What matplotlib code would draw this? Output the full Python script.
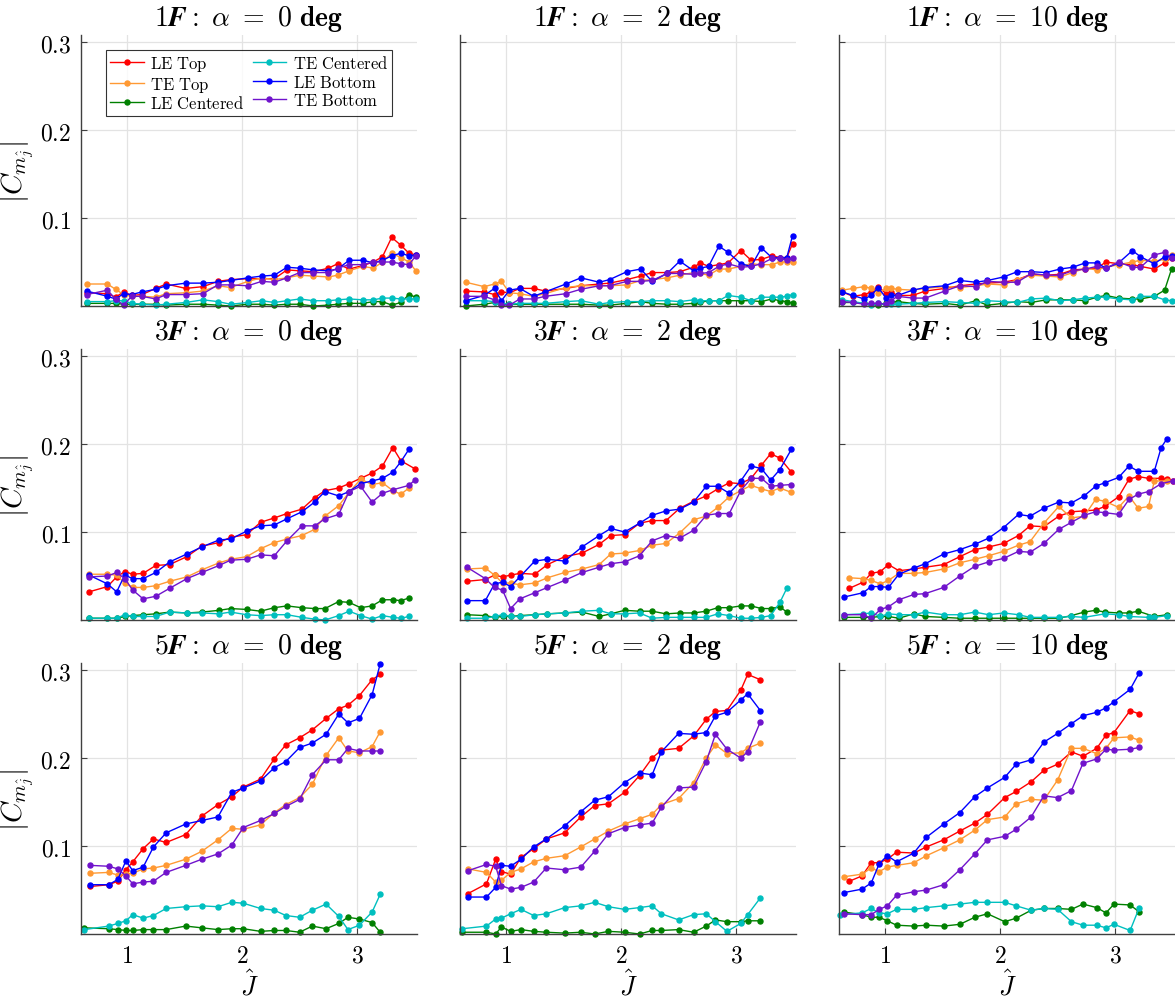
import numpy as np
import matplotlib
matplotlib.use("Agg")
import matplotlib.pyplot as plt

plt.rcParams['mathtext.fontset'] = 'cm'
plt.rcParams['font.family'] = 'serif'
plt.rcParams['font.serif'] = ['DejaVu Serif']

nan = np.nan

# series names, legend order
series_names = ['LE Top', 'TE Top', 'LE Centered', 'TE Centered', 'LE Bottom', 'TE Bottom']
series_colors = ['#ff0000', '#ff9933', '#008000', '#00bfbf', '#0000ff', '#7013cc']

rows = ['1', '3', '5']
alphas = [0, 2, 10]

# ---------------- 1F, alpha = 0 ----------------
J_1f_a0 = [0.65, 0.83, 0.90, 0.97, 1.04, 1.13, 1.25, 1.34, 1.51, 1.66, 1.79, 1.90, 2.05, 2.17,
           2.28, 2.39, 2.50, 2.62, 2.75, 2.83, 2.93, 3.05, 3.14, 3.22, 3.30, 3.38, 3.45, 3.51]
le_top_1f_a0 = [0.015, 0.014, 0.010, 0.016, 0.012, 0.013, 0.020, 0.025, 0.020, 0.022, 0.028, 0.030, 0.031, 0.031,
                0.031, 0.041, 0.040, 0.039, 0.043, 0.048, 0.042, 0.046, 0.050, 0.056, 0.078, 0.069, 0.060, 0.058]
te_top_1f_a0 = [0.025, 0.025, 0.019, 0.013, 0.011, 0.011, 0.010, 0.014, 0.015, 0.017, 0.023, 0.021, 0.028, 0.032,
                0.030, 0.032, 0.035, 0.034, 0.033, 0.035, 0.040, 0.045, 0.043, 0.050, 0.060, 0.055, 0.050, 0.040]
le_cen_1f_a0 = [0.003, 0.003, 0.003, 0.002, 0.002, 0.002, 0.002, 0.001, 0.002, 0.002, 0.001, 0.000, 0.002, 0.002,
                0.001, 0.002, 0.002, 0.000, 0.001, 0.002, 0.003, 0.003, 0.005, 0.005, 0.001, 0.004, 0.013, 0.010]
te_cen_1f_a0 = [0.005, 0.005, 0.006, 0.006, 0.003, 0.002, 0.001, 0.002, 0.004, 0.007, 0.005, 0.002, 0.004, 0.006,
                0.004, 0.006, 0.008, 0.006, 0.006, 0.007, 0.008, 0.007, 0.007, 0.009, 0.009, 0.008, 0.008, 0.008]
le_bot_1f_a0 = [0.017, 0.011, 0.008, 0.014, 0.013, 0.016, 0.019, 0.023, 0.026, 0.026, 0.027, 0.029, 0.032, 0.034,
                0.035, 0.044, 0.043, 0.041, 0.040, 0.042, 0.052, 0.052, 0.049, 0.052, 0.057, 0.060, 0.057, 0.058]
te_bot_1f_a0 = [0.013, 0.018, 0.008, 0.001, 0.011, 0.011, 0.008, 0.013, 0.013, 0.014, 0.024, 0.024, 0.023, 0.028,
                0.027, 0.032, 0.038, 0.038, 0.038, 0.043, 0.047, 0.047, 0.050, 0.050, 0.050, 0.048, 0.047, 0.057]

# ---------------- 1F, alpha = 2 ----------------
J_1f_a2 = [0.65, 0.81, 0.90, 0.96, 1.03, 1.12, 1.24, 1.34, 1.52, 1.65, 1.81, 1.90, 2.05, 2.17, 2.27,
           2.40, 2.51, 2.63, 2.69, 2.76, 2.85, 2.93, 3.04, 3.13, 3.22, 3.31, 3.38, 3.44, 3.49]
le_top_1f_a2 = [0.017, 0.016, 0.013, 0.016, 0.015, 0.020, 0.020, 0.017, 0.020, 0.023, 0.025, 0.026, 0.030, 0.034, 0.038,
                0.038, 0.039, 0.044, 0.049, 0.045, 0.047, 0.049, 0.063, 0.052, 0.053, 0.057, 0.055, 0.055, 0.071]
te_top_1f_a2 = [0.027, 0.022, 0.025, 0.028, 0.015, 0.014, 0.011, 0.014, 0.021, 0.023, 0.023, 0.023, 0.024, 0.029, 0.030,
                0.032, 0.035, 0.038, 0.037, 0.035, 0.042, 0.042, 0.045, 0.048, 0.047, 0.047, 0.050, 0.050, 0.050]
le_cen_1f_a2 = [0.000, 0.002, 0.004, 0.002, 0.002, 0.002, 0.002, 0.002, 0.002, 0.002, 0.001, 0.001, 0.003, 0.005, 0.003,
                0.002, 0.002, 0.003, 0.004, 0.006, 0.006, 0.006, 0.006, 0.006, 0.005, 0.008, 0.006, 0.005, 0.003]
te_cen_1f_a2 = [0.006, 0.006, 0.005, 0.003, 0.002, 0.003, 0.003, 0.003, 0.005, 0.006, 0.002, 0.004, 0.005, 0.005, 0.006,
                0.006, 0.005, 0.007, 0.006, 0.006, 0.006, 0.012, 0.010, 0.006, 0.010, 0.010, 0.010, 0.011, 0.013]
le_bot_1f_a2 = [0.006, 0.012, 0.020, 0.006, 0.018, 0.020, 0.011, 0.016, 0.025, 0.032, 0.027, 0.030, 0.039, 0.042, 0.028,
                0.037, 0.051, 0.040, 0.043, 0.045, 0.068, 0.061, 0.048, 0.045, 0.066, 0.055, 0.055, 0.055, 0.080]
te_bot_1f_a2 = [0.011, 0.011, 0.007, 0.001, 0.001, 0.008, 0.008, 0.011, 0.014, 0.019, 0.023, 0.023, 0.028, 0.028, 0.029,
                0.037, 0.037, 0.036, 0.037, 0.038, 0.045, 0.048, 0.044, 0.045, 0.048, 0.054, 0.054, 0.052, 0.054]

# ---------------- 1F, alpha = 10 ----------------
J_1f_a10 = [0.63, 0.72, 0.82, 0.88, 0.94, 1.01, 1.05, 1.11, 1.24, 1.35, 1.52, 1.65, 1.79, 1.89, 2.03,
            2.15, 2.27, 2.40, 2.52, 2.63, 2.74, 2.84, 2.92, 3.03, 3.15, 3.22, 3.34, 3.43, 3.49]
le_top_1f_a10 = [0.016, 0.011, 0.013, 0.016, 0.022, 0.014, 0.016, 0.012, 0.012, 0.017, 0.020, 0.023, 0.025, 0.026, 0.027,
                 0.030, 0.036, 0.035, 0.036, 0.041, 0.042, 0.043, 0.050, 0.048, 0.047, 0.045, 0.042, 0.049, 0.055]
te_top_1f_a10 = [0.018, 0.020, 0.022, 0.020, 0.015, 0.020, 0.020, 0.019, 0.018, 0.020, 0.022, 0.021, 0.023, 0.025, 0.024,
                 0.030, 0.035, 0.034, 0.033, 0.038, 0.043, 0.041, 0.044, 0.047, 0.050, 0.052, 0.051, 0.053, 0.058]
le_cen_1f_a10 = [0.004, 0.004, 0.003, 0.002, 0.001, 0.003, 0.005, 0.005, 0.003, 0.002, 0.003, 0.001, 0.006, 0.001, 0.003,
                 0.005, 0.004, 0.007, 0.007, 0.007, 0.006, 0.010, 0.012, 0.009, 0.008, 0.008, 0.011, 0.018, 0.042]
te_cen_1f_a10 = [0.007, 0.005, 0.003, 0.001, 0.003, 0.002, 0.002, 0.002, 0.003, 0.004, 0.005, 0.004, 0.003, 0.006, 0.005,
                 0.004, 0.008, 0.009, 0.006, 0.007, 0.009, 0.010, 0.010, 0.008, 0.007, 0.011, 0.011, 0.007, 0.006]
le_bot_1f_a10 = [0.016, 0.012, 0.008, 0.012, 0.021, 0.009, 0.012, 0.012, 0.018, 0.021, 0.023, 0.029, 0.027, 0.029, 0.033,
                 0.039, 0.039, 0.038, 0.042, 0.044, 0.049, 0.049, 0.043, 0.049, 0.063, 0.056, 0.048, 0.056, 0.057]
te_bot_1f_a10 = [0.005, 0.004, 0.002, 0.003, 0.003, 0.002, 0.006, 0.011, 0.009, 0.009, 0.017, 0.023, 0.022, 0.028, 0.027,
                 0.027, 0.037, 0.035, 0.035, 0.040, 0.042, 0.045, 0.043, 0.050, 0.044, 0.044, 0.058, 0.061, 0.055]

# ---------------- 3F, alpha = 0 ----------------
J_3f_a0 = [0.67, 0.83, 0.91, 0.98, 1.05, 1.14, 1.25, 1.37, 1.52, 1.65, 1.80, 1.90, 2.04, 2.16,
           2.28, 2.39, 2.52, 2.63, 2.72, 2.84, 2.93, 3.03, 3.13, 3.22, 3.31, 3.38, 3.45, 3.50]
le_top_3f_a0 = [0.032, 0.038, 0.049, 0.055, 0.052, 0.053, 0.062, 0.063, 0.072, 0.084, 0.088, 0.094, 0.097, 0.111,
                0.116, 0.121, 0.126, 0.139, 0.147, 0.150, 0.155, 0.161, 0.167, 0.175, 0.196, 0.181, nan, 0.172]
te_top_3f_a0 = [0.052, 0.052, 0.051, 0.042, 0.037, 0.037, 0.039, 0.044, 0.049, 0.057, 0.065, 0.069, 0.072, 0.081,
                0.088, 0.092, 0.096, 0.103, 0.118, 0.130, 0.145, 0.160, 0.154, 0.156, 0.147, 0.143, 0.150, nan]
le_cen_3f_a0 = [0.002, 0.002, 0.002, 0.004, 0.005, 0.006, 0.007, 0.009, 0.008, 0.009, 0.011, 0.013, 0.012, 0.010,
                0.014, 0.016, 0.014, 0.013, 0.013, 0.021, 0.020, 0.014, 0.016, 0.023, 0.023, 0.022, 0.025, nan]
te_cen_3f_a0 = [0.002, 0.002, 0.002, 0.006, 0.004, 0.004, 0.004, 0.009, 0.008, 0.008, 0.007, 0.009, 0.006, 0.005,
                0.006, 0.006, 0.003, 0.001, 0.000, 0.005, 0.010, 0.005, 0.001, 0.005, 0.003, 0.002, 0.004, nan]
le_bot_3f_a0 = [0.051, 0.041, 0.032, 0.051, 0.047, 0.047, 0.054, 0.066, 0.075, 0.083, 0.091, 0.092, 0.101, 0.107,
                0.108, 0.115, 0.123, 0.134, 0.146, 0.141, 0.146, 0.155, 0.158, 0.161, 0.168, 0.180, 0.194, nan]
te_bot_3f_a0 = [0.049, 0.050, 0.054, 0.047, 0.034, 0.024, 0.027, 0.036, 0.047, 0.054, 0.062, 0.068, 0.069, 0.074,
                0.073, 0.090, 0.107, 0.107, 0.115, 0.120, 0.146, 0.152, 0.134, 0.144, 0.148, nan, 0.153, 0.159]

# ---------------- 3F, alpha = 2 ----------------
J_3f_a2 = [0.66, 0.82, 0.90, 0.97, 1.04, 1.12, 1.25, 1.36, 1.51, 1.66, 1.81, 1.91, 2.03, 2.16,
           2.27, 2.39, 2.51, 2.63, 2.74, 2.84, 2.94, 3.04, 3.13, 3.22, 3.30, 3.38, 3.44, 3.48]
le_top_3f_a2 = [0.044, 0.046, 0.051, 0.049, 0.051, 0.053, 0.052, 0.063, 0.072, 0.076, 0.086, 0.096, 0.097, 0.110,
                0.113, 0.113, 0.127, 0.135, 0.141, 0.149, 0.156, 0.155, 0.161, 0.176, 0.189, 0.184, nan, 0.168]
te_top_3f_a2 = [0.058, 0.059, 0.051, 0.042, 0.042, 0.040, 0.042, 0.048, 0.054, 0.058, 0.063, 0.075, 0.076, 0.079,
                0.085, 0.087, 0.099, 0.114, 0.118, 0.128, 0.140, 0.147, 0.153, 0.149, 0.146, 0.150, nan, 0.145]
le_cen_3f_a2 = [0.006, 0.005, 0.003, 0.004, 0.004, 0.005, 0.006, 0.007, 0.008, 0.009, 0.004, 0.007, 0.011, 0.010,
                0.010, 0.007, 0.008, 0.008, 0.010, 0.014, 0.014, 0.016, 0.016, 0.013, 0.013, 0.015, 0.009, nan]
te_cen_3f_a2 = [0.002, 0.002, 0.004, 0.006, 0.004, 0.004, 0.006, 0.007, 0.008, 0.010, 0.011, 0.007, 0.007, 0.008,
                0.002, 0.003, 0.003, 0.003, 0.003, 0.007, 0.005, 0.002, 0.002, 0.003, 0.005, 0.020, 0.036, nan]
le_bot_3f_a2 = [0.022, 0.022, 0.041, 0.043, 0.038, 0.049, 0.067, 0.069, 0.067, 0.083, 0.096, 0.104, 0.100, 0.110,
                0.119, 0.124, 0.126, 0.134, 0.152, 0.152, 0.144, 0.158, 0.175, 0.172, 0.159, 0.171, nan, 0.194]
te_bot_3f_a2 = [0.060, 0.047, 0.037, 0.034, 0.013, 0.024, 0.031, 0.037, 0.045, 0.054, 0.060, 0.064, 0.066, 0.073,
                0.090, 0.096, 0.093, 0.102, 0.119, 0.121, 0.121, 0.147, 0.161, 0.161, 0.152, 0.153, nan, 0.154]

# ---------------- 3F, alpha = 10 ----------------
J_3f_a10 = [0.64, 0.69, 0.81, 0.88, 0.96, 1.03, 1.12, 1.25, 1.35, 1.51, 1.65, 1.78, 1.90, 2.03, 2.16,
            2.26, 2.38, 2.51, 2.62, 2.73, 2.83, 2.91, 3.03, 3.12, 3.20, 3.29, 3.34, 3.40, 3.45, 3.50]
le_top_3f_a10 = [nan, 0.036, 0.043, 0.053, 0.055, 0.063, 0.056, 0.058, 0.060, 0.063, 0.072, 0.080, 0.083, 0.087, 0.096,
                 0.107, 0.106, 0.118, 0.123, 0.124, 0.125, 0.129, 0.140, 0.160, 0.163, 0.161, nan, 0.161, 0.160, 0.158]
te_top_3f_a10 = [nan, 0.048, 0.047, 0.045, 0.041, 0.045, 0.053, 0.053, 0.054, 0.058, 0.065, 0.069, 0.073, 0.078, 0.085,
                 0.089, 0.110, 0.129, 0.116, 0.118, 0.137, 0.135, 0.128, 0.141, 0.127, 0.129, 0.158, nan, 0.158, nan]
le_cen_3f_a10 = [0.003, nan, 0.003, 0.003, 0.004, 0.004, 0.002, 0.007, 0.004, 0.003, 0.002, 0.002, 0.002, 0.002, 0.002,
                 0.002, 0.002, 0.002, 0.005, 0.009, 0.011, 0.009, 0.008, 0.008, 0.010, nan, 0.004, nan, 0.006, nan]
te_cen_3f_a10 = [0.006, nan, 0.007, 0.008, 0.004, 0.007, 0.006, 0.006, 0.009, 0.006, 0.006, 0.009, 0.006, 0.008, 0.006,
                 0.003, 0.003, 0.003, 0.004, 0.003, nan, 0.007, 0.006, 0.004, nan, 0.003, 0.003, nan, 0.005, nan]
le_bot_3f_a10 = [0.026, nan, 0.031, 0.038, 0.038, 0.037, 0.052, 0.059, 0.064, 0.075, 0.080, 0.086, 0.093, 0.105, 0.120,
                 0.118, 0.127, 0.134, 0.133, 0.141, 0.152, 0.156, 0.162, 0.175, 0.169, nan, 0.169, 0.196, 0.206, nan]
te_bot_3f_a10 = [0.006, nan, 0.006, 0.002, 0.012, 0.015, 0.023, 0.029, 0.030, 0.037, 0.050, 0.061, 0.066, 0.070, 0.078,
                 0.077, 0.087, 0.103, 0.111, 0.119, 0.123, 0.122, 0.120, 0.137, 0.143, 0.146, nan, 0.155, nan, 0.158]

# ---------------- 5F, alpha = 0 ----------------
J_5f_a0 = [0.63, 0.68, 0.84, 0.92, 0.99, 1.05, 1.14, 1.23, 1.34, 1.51, 1.65, 1.79, 1.91,
           2.01, 2.16, 2.28, 2.38, 2.50, 2.61, 2.73, 2.84, 2.92, 3.02, 3.13, 3.20]
le_top_5f_a0 = [nan, 0.054, 0.056, 0.060, 0.073, 0.082, 0.097, 0.108, 0.104, 0.113, 0.134, 0.147, 0.156,
                0.167, 0.176, 0.199, 0.215, 0.223, 0.232, 0.245, 0.256, 0.260, 0.271, 0.289, 0.295]
te_top_5f_a0 = [nan, 0.069, 0.070, 0.067, 0.068, 0.069, 0.074, 0.075, 0.078, 0.085, 0.094, 0.107, 0.120,
                0.119, 0.124, 0.138, 0.147, 0.155, 0.170, 0.203, 0.223, 0.208, 0.206, 0.213, 0.230]
le_cen_5f_a0 = [0.007, nan, 0.006, 0.005, 0.004, 0.004, 0.005, 0.005, 0.005, 0.009, 0.007, 0.005, 0.006,
                0.006, 0.003, 0.004, 0.004, 0.002, 0.009, 0.006, 0.012, 0.019, 0.017, 0.013, 0.002]
te_cen_5f_a0 = [0.005, nan, 0.009, 0.012, 0.015, 0.022, 0.018, 0.021, 0.029, 0.031, 0.032, 0.031, 0.036,
                0.035, 0.029, 0.027, 0.021, 0.019, 0.027, 0.034, 0.020, 0.005, 0.010, 0.025, 0.045]
le_bot_5f_a0 = [nan, 0.056, 0.056, 0.062, 0.083, 0.072, 0.076, 0.099, 0.115, 0.125, 0.129, 0.133, 0.161,
                0.166, 0.174, 0.189, 0.196, 0.212, 0.217, 0.227, 0.250, 0.240, 0.245, 0.272, 0.307]
te_bot_5f_a0 = [nan, 0.078, 0.077, 0.074, 0.066, 0.057, 0.059, 0.060, 0.070, 0.078, 0.085, 0.091, 0.101,
                0.121, 0.129, 0.137, 0.145, 0.153, 0.181, 0.198, 0.198, 0.211, 0.208, 0.208, 0.208]

# ---------------- 5F, alpha = 2 ----------------
J_5f_a2 = [0.62, 0.67, 0.83, 0.91, 0.96, 1.04, 1.13, 1.24, 1.35, 1.51, 1.65, 1.77, 1.89,
           2.03, 2.16, 2.27, 2.35, 2.50, 2.63, 2.74, 2.82, 2.92, 3.04, 3.10, 3.21]
le_top_5f_a2 = [nan, 0.046, 0.057, 0.085, 0.071, 0.068, 0.087, 0.097, 0.108, 0.115, 0.133, 0.146, 0.148,
                0.161, 0.180, 0.200, 0.209, 0.211, 0.225, 0.244, 0.253, 0.254, 0.277, 0.295, 0.289]
te_top_5f_a2 = [nan, 0.074, 0.070, 0.059, 0.061, 0.070, 0.074, 0.082, 0.086, 0.089, 0.099, 0.108, 0.117,
                0.125, 0.131, 0.136, 0.147, 0.154, 0.172, 0.200, 0.215, 0.205, 0.206, 0.211, 0.217]
le_cen_5f_a2 = [0.002, nan, 0.002, 0.000, 0.008, 0.003, 0.005, 0.003, 0.002, 0.001, 0.002, 0.000, 0.003,
                0.002, 0.000, 0.004, 0.004, 0.005, 0.002, 0.009, 0.016, 0.014, 0.014, 0.015, 0.015]
te_cen_5f_a2 = [0.006, nan, 0.009, 0.017, 0.018, 0.023, 0.028, 0.021, 0.023, 0.030, 0.032, 0.036, 0.031,
                0.028, 0.030, 0.032, 0.023, 0.016, 0.022, 0.023, 0.014, 0.003, 0.012, 0.022, 0.041]
le_bot_5f_a2 = [nan, 0.042, 0.042, 0.053, 0.078, 0.077, 0.085, 0.099, 0.108, 0.123, 0.139, 0.152, 0.156,
                0.172, 0.183, 0.181, 0.207, 0.228, 0.227, 0.229, 0.248, 0.252, 0.266, 0.273, 0.254]
te_bot_5f_a2 = [nan, 0.072, 0.079, 0.077, 0.055, 0.051, 0.053, 0.059, 0.075, 0.073, 0.076, 0.094, 0.114,
                0.121, 0.124, 0.126, 0.144, 0.166, 0.167, 0.196, 0.227, 0.210, 0.200, 0.207, 0.241]

# ---------------- 5F, alpha = 10 ----------------
J_5f_a10 = [0.61, 0.64, 0.69, 0.80, 0.88, 0.95, 1.02, 1.10, 1.25, 1.36, 1.51, 1.65, 1.78,
            1.89, 2.04, 2.14, 2.27, 2.38, 2.50, 2.62, 2.72, 2.84, 2.92, 2.99, 3.13, 3.21]
le_top_5f_a10 = [nan, nan, 0.060, 0.066, 0.081, 0.081, 0.085, 0.093, 0.092, 0.099, 0.107, 0.117, 0.126,
                 0.136, 0.155, 0.162, 0.173, 0.186, 0.193, 0.207, 0.202, 0.211, 0.226, 0.229, 0.254, 0.250]
te_top_5f_a10 = [nan, 0.065, nan, 0.068, 0.075, 0.071, 0.076, 0.078, 0.081, 0.089, 0.098, 0.107, 0.118,
                 0.130, 0.133, 0.148, 0.153, 0.152, 0.175, 0.211, 0.211, 0.205, 0.211, 0.223, 0.224, 0.220]
le_cen_5f_a10 = [nan, 0.025, nan, 0.022, 0.019, 0.019, 0.015, 0.010, 0.009, 0.010, 0.009, 0.011, 0.019,
                 0.023, 0.014, 0.018, 0.027, 0.029, 0.029, 0.028, 0.034, 0.030, 0.024, 0.034, 0.033, 0.025]
te_cen_5f_a10 = [0.022, nan, nan, 0.024, 0.029, 0.024, 0.023, 0.028, 0.028, 0.030, 0.032, 0.034, 0.036,
                 0.036, 0.036, 0.032, 0.027, 0.029, 0.028, 0.014, 0.010, 0.010, 0.007, 0.011, 0.004, 0.030]
le_bot_5f_a10 = [nan, 0.047, nan, 0.051, 0.058, 0.080, 0.089, 0.082, 0.092, 0.110, 0.125, 0.138, 0.156,
                 0.166, 0.178, 0.193, 0.198, 0.218, 0.228, 0.239, 0.248, 0.252, 0.257, 0.264, 0.278, 0.297]
te_bot_5f_a10 = [nan, 0.023, nan, 0.022, 0.022, 0.028, 0.032, 0.044, 0.048, 0.050, 0.056, 0.073, 0.091,
                 0.107, 0.111, 0.119, 0.133, 0.157, 0.155, 0.163, 0.194, 0.199, 0.210, 0.209, 0.210, 0.212]

panels = [
    [(J_1f_a0, [le_top_1f_a0, te_top_1f_a0, le_cen_1f_a0, te_cen_1f_a0, le_bot_1f_a0, te_bot_1f_a0]),
     (J_1f_a2, [le_top_1f_a2, te_top_1f_a2, le_cen_1f_a2, te_cen_1f_a2, le_bot_1f_a2, te_bot_1f_a2]),
     (J_1f_a10, [le_top_1f_a10, te_top_1f_a10, le_cen_1f_a10, te_cen_1f_a10, le_bot_1f_a10, te_bot_1f_a10])],
    [(J_3f_a0, [le_top_3f_a0, te_top_3f_a0, le_cen_3f_a0, te_cen_3f_a0, le_bot_3f_a0, te_bot_3f_a0]),
     (J_3f_a2, [le_top_3f_a2, te_top_3f_a2, le_cen_3f_a2, te_cen_3f_a2, le_bot_3f_a2, te_bot_3f_a2]),
     (J_3f_a10, [le_top_3f_a10, te_top_3f_a10, le_cen_3f_a10, te_cen_3f_a10, le_bot_3f_a10, te_bot_3f_a10])],
    [(J_5f_a0, [le_top_5f_a0, te_top_5f_a0, le_cen_5f_a0, te_cen_5f_a0, le_bot_5f_a0, te_bot_5f_a0]),
     (J_5f_a2, [le_top_5f_a2, te_top_5f_a2, le_cen_5f_a2, te_cen_5f_a2, le_bot_5f_a2, te_bot_5f_a2]),
     (J_5f_a10, [le_top_5f_a10, te_top_5f_a10, le_cen_5f_a10, te_cen_5f_a10, le_bot_5f_a10, te_bot_5f_a10])],
]

W, H = 1175, 1004
fig = plt.figure(figsize=(W / 100, H / 100), dpi=100)

col_left = [81, 460, 839]
row_top = [36, 350, 664]
ax_w, ax_h = 336, 271
spine_col = '#404040'

for r in range(3):
    for c in range(3):
        x0, y0 = col_left[c], row_top[r]
        ax = fig.add_axes([x0 / W, 1 - (y0 + ax_h) / H, ax_w / W, ax_h / H])
        J, ys = panels[r][c]
        J = np.asarray(J)
        for name, col, y in zip(series_names, series_colors, ys):
            y = np.asarray(y, dtype=float)
            m = ~np.isnan(y)
            ax.plot(J[m], y[m], '-o', color=col, lw=1.0, ms=3.6, label=r'$\mathrm{' + name.replace(' ', r'\ ') + '}$',
                    clip_on=False)

        ax.set_xlim(0.6, 3.52)
        ax.set_ylim(0, 0.308)
        ax.set_xticks([1, 2, 3])
        ax.set_yticks([0.1, 0.2, 0.3])
        ax.grid(True, color='#e3e3e3', lw=0.9)
        ax.set_axisbelow(True)
        for s in ['top', 'right']:
            ax.spines[s].set_visible(False)
        for s in ['left', 'bottom']:
            ax.spines[s].set_color(spine_col)
            ax.spines[s].set_linewidth(1.0)
        ax.tick_params(direction='in', length=4, width=0.8, color=spine_col, labelsize=17, pad=7)

        if c == 0:
            ax.set_yticklabels([r'$0.1$', r'$0.2$', r'$0.3$'])
            ax.set_ylabel(r'$|C_{m_{\hat{j}}}|$', fontsize=21)
            ax.yaxis.set_label_coords(-0.135, 0.5)
        else:
            ax.set_yticklabels([])
        if r == 2:
            ax.set_xticklabels([r'$1$', r'$2$', r'$3$'])
            ax.set_xlabel(r'$\hat{J}$', fontsize=19, labelpad=2)
        else:
            ax.set_xticklabels([])

        title = (r'$\mathbf{' + rows[r] + r'}\mathbfit{F}\mathbf{:}\ \alpha\ \mathbf{=}\ \mathbf{'
                 + str(alphas[c]) + r'\ deg}$')
        ax.set_title(title, fontsize=20, pad=7)

        if r == 0 and c == 0:
            leg = ax.legend(loc='upper left', ncol=2, fontsize=12, frameon=True, fancybox=False,
                            edgecolor='black', handlelength=2.0, handletextpad=0.4, columnspacing=0.5,
                            labelspacing=0.08, borderpad=0.25, bbox_to_anchor=(0.05, 0.975))
            leg.get_frame().set_linewidth(0.8)

fig.savefig('out.png', dpi=100)
